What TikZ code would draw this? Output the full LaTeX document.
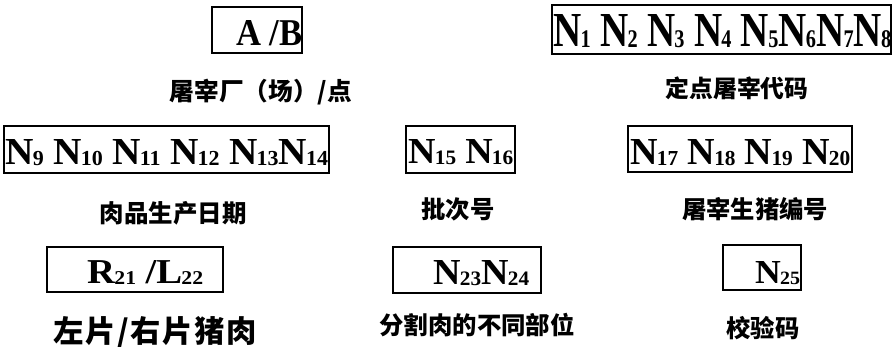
\documentclass[tikz,border=0pt]{standalone}
\usepackage{fontspec}
\usepackage{graphicx}
\newfontfamily\tms{Liberation Serif}
\newfontfamily\cjk{Noto Sans CJK SC}
\newcommand\subsz{26pt}
\newcommand\Sb[1]{\kern-1pt\raisebox{-1.5pt}{\fontsize{\subsz}{\subsz}\selectfont #1}}
\newcommand\Sp{\hspace{12pt}}
\newcommand\Lat[4]{\resizebox{#1pt}{#2pt}{\renewcommand\subsz{#3}\fontsize{50pt}{50pt}\selectfont\tms\bfseries #4}}
\newcommand\Cj[2]{\resizebox{#1pt}{!}{\fontsize{24pt}{24pt}\selectfont\cjk\bfseries #2}}
\tikzset{
  boxst/.style={draw=black, line width=1.2pt, rectangle, inner sep=0pt},
  lat/.style={inner sep=0pt, anchor=base west},
  lab/.style={inner sep=0pt, anchor=center}
}
\begin{document}
\begin{tikzpicture}[x=1pt,y=-1pt]
\useasboundingbox (0,0) rectangle (896,346);
\fill[white] (0,0) rectangle (896,346);
% boxes
\node[boxst, minimum width=90pt, minimum height=46pt] (bab) at (257,30) {};
\node[boxst, minimum width=339pt, minimum height=49pt] (bn1) at (721.5,29.5) {};
\node[boxst, minimum width=325pt, minimum height=47pt] (bn9) at (166.5,149.5) {};
\node[boxst, minimum width=109pt, minimum height=47pt] (bn15) at (460.5,149.5) {};
\node[boxst, minimum width=224pt, minimum height=46pt] (bn17) at (740,149) {};
\node[boxst, minimum width=176pt, minimum height=45pt] (br21) at (135,269.5) {};
\node[boxst, minimum width=148pt, minimum height=46pt] (bn23) at (467,270) {};
\node[boxst, minimum width=78pt, minimum height=45pt] (bn25) at (762,267.5) {};
% codes
\node[lat] (tab) at (236,45) {\Lat{66}{25}{26pt}{A\Sp/B}};
\node[lat] (tn1) at (553,46) {\Lat{338}{32}{26pt}{N\Sb{1}\Sp N\Sb{2}\Sp N\Sb{3}\Sp N\Sb{4}\Sp N\Sb{5}N\Sb{6}N\Sb{7}N\Sb{8}}};
\node[lat] (tn9) at (5,164) {\Lat{323}{25}{28pt}{N\Sb{9}\Sp N\Sb{10}\Sp N\Sb{11}\Sp N\Sb{12}\Sp N\Sb{13}N\Sb{14}}};
\node[lat] (tn15) at (408,163) {\Lat{105}{24}{28pt}{N\Sb{15}\Sp N\Sb{16}}};
\node[lat] (tn17) at (630,164) {\Lat{220}{25}{28pt}{N\Sb{17}\Sp N\Sb{18}\Sp N\Sb{19}\Sp N\Sb{20}}};
\node[lat] (tr21) at (87,283) {\Lat{116}{23}{28pt}{R\Sb{21}\Sp /L\Sb{22}}};
\node[lat] (tn23) at (433,284) {\Lat{96}{24}{28pt}{N\Sb{23}N\Sb{24}}};
\node[lat] (tn25) at (755,283) {\Lat{45}{22}{28pt}{N\Sb{25}}};
% labels
\node[lab] (l1) at (261,92) {\Cj{182}{屠宰厂（场）/点}};
\node[lab] (l2) at (737,88) {\Cj{143}{定点屠宰代码}};
\node[lab] (l3) at (173,213) {\Cj{147}{肉品生产日期}};
\node[lab] (l4) at (458,209) {\Cj{73}{批次号}};
\node[lab] (l5) at (755,209) {\Cj{146}{屠宰生猪编号}};
\node[lab] (l6) at (155,332) {\Cj{203}{\addfontfeature{LetterSpace=5}左片/右片猪肉}};
\node[lab] (l7) at (477,325) {\Cj{195}{分割肉的不同部位}};
\node[lab] (l8) at (763,328.5) {\Cj{73}{校验码}};
\end{tikzpicture}
\end{document}
